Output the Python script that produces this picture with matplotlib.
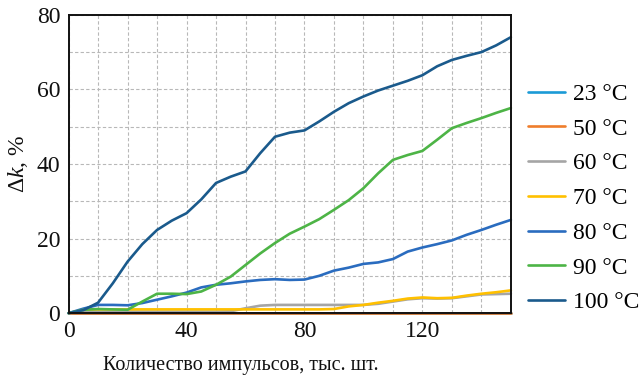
import matplotlib
matplotlib.use("Agg")
import matplotlib.pyplot as plt
from matplotlib.ticker import MultipleLocator

plt.rcParams["font.family"] = ["Liberation Serif", "DejaVu Serif"]
plt.rcParams["mathtext.fontset"] = "custom"
plt.rcParams["mathtext.rm"] = "Liberation Serif"
plt.rcParams["mathtext.it"] = "Liberation Serif:italic"

# количество импульсов, тыс. шт.
pulses = [0, 5, 10, 15, 20, 25, 30, 35, 40, 45, 50, 55, 60, 65, 70, 75,
          80, 85, 90, 95, 100, 105, 110, 115, 120, 125, 130, 135, 140, 145, 150]

dk_23 = [0.0] * 31
dk_50 = [0.0] * 31
dk_60 = [0, 0.3, 0.4, 0.4, 0.4, 0.4, 0.4, 0.4, 0.4, 0.4, 0.4, 0.5, 1.3, 2.0, 2.2, 2.2,
         2.2, 2.2, 2.2, 2.2, 2.2, 2.5, 3.1, 3.7, 4.0, 3.9, 4.0, 4.5, 5.0, 5.1, 5.2]
dk_70 = [0, 0.9, 1.0, 1.0, 1.0, 1.0, 1.0, 1.0, 1.0, 1.0, 1.0, 1.0, 1.0, 1.0, 1.0, 1.0,
         1.0, 1.0, 1.1, 1.8, 2.2, 2.8, 3.3, 3.9, 4.2, 4.0, 4.1, 4.7, 5.2, 5.6, 6.1]
dk_80 = [0, 1.2, 2.2, 2.2, 2.1, 2.7, 3.6, 4.5, 5.5, 6.9, 7.6, 8.0, 8.5, 8.9, 9.1, 8.9,
         9.0, 10.0, 11.4, 12.2, 13.2, 13.6, 14.5, 16.5, 17.6, 18.5, 19.5, 21.0, 22.3, 23.7, 25.0]
dk_90 = [0, 0.9, 1.1, 1.0, 0.9, 3.1, 5.2, 5.2, 5.1, 5.8, 7.6, 9.8, 12.9, 16.0, 18.8, 21.3,
         23.2, 25.2, 27.7, 30.3, 33.5, 37.5, 41.1, 42.4, 43.5, 46.5, 49.6, 51.0, 52.3, 53.7, 55.0]
dk_100 = [0, 0.8, 2.8, 8.0, 13.8, 18.5, 22.3, 24.8, 26.8, 30.5, 34.9, 36.6, 38.0, 42.9, 47.3, 48.4,
          49.0, 51.4, 54.0, 56.3, 58.1, 59.7, 61.0, 62.3, 63.8, 66.2, 67.9, 69.0, 70.0, 71.8, 74.0]

labels = ["23 °C", "50 °C", "60 °C", "70 °C", "80 °C", "90 °C", "100 °C"]
colors = ["#1b9ad6", "#ef7d2c", "#a5a5a5", "#ffc000", "#2a6cbf", "#4db446", "#1a5a8c"]
series = [dk_23, dk_50, dk_60, dk_70, dk_80, dk_90, dk_100]

fig = plt.figure(figsize=(6.41, 3.8), dpi=100)
ax = fig.add_axes([0.107, 0.176, 0.690, 0.785])

for vals, c, lab in zip(series, colors, labels):
    ax.plot(pulses, vals, color=c, lw=1.9, label=lab, clip_on=False,
            solid_capstyle="round", solid_joinstyle="round")

ax.set_xlim(0, 150)
ax.set_ylim(0, 80)
ax.xaxis.set_major_locator(MultipleLocator(40))
ax.xaxis.set_minor_locator(MultipleLocator(10))
ax.yaxis.set_major_locator(MultipleLocator(20))
ax.yaxis.set_minor_locator(MultipleLocator(10))
ax.grid(which="both", color="#b8b8b8", linestyle=(0, (3, 2)), linewidth=0.8)
ax.set_axisbelow(True)
ax.tick_params(which="both", length=0, labelsize=17, colors="#111111")
ax.tick_params(axis="x", pad=6)
ax.tick_params(axis="y", pad=6)

for s in ax.spines.values():
    s.set_linewidth(1.4)
    s.set_color("#111111")

ax.set_xlabel("Количество импульсов, тыс. шт.", fontsize=14.5, color="#111111")
ax.xaxis.set_label_coords(0.39, -0.145)
ax.set_ylabel("Δ$k$, %", fontsize=17, labelpad=5, color="#111111")

ax.legend(loc="center left", bbox_to_anchor=(1.038, 0.385), frameon=False,
          borderpad=0, borderaxespad=0, fontsize=17, handlelength=1.57,
          handletextpad=0.34, labelspacing=0.56)

fig.savefig("out.png", dpi=100)
